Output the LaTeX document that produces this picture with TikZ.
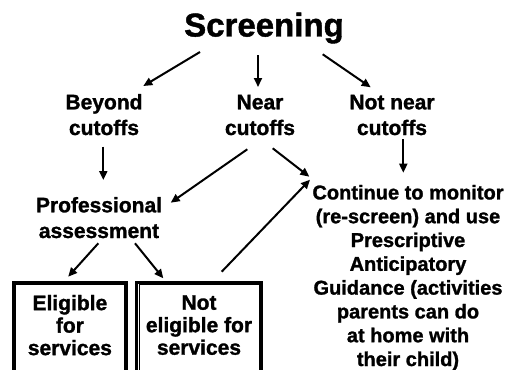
\documentclass[tikz,border=0pt]{standalone}
\usepackage{fontspec}
\setmainfont{Liberation Sans}[BoldFeatures={FakeBold=1.3}]
\usetikzlibrary{arrows.meta}

\tikzset{
  lbl/.style={font=\fontsize{21}{25.7}\selectfont\bfseries,align=center,anchor=base,inner sep=0pt},
  note/.style={font=\fontsize{20}{23.8}\selectfont\bfseries,align=center,anchor=base,inner sep=0pt},
  outcome/.style={draw,line width=3pt,minimum height=100pt,inner sep=0pt,text depth=14pt,align=center,
    font=\fontsize{21}{22.5}\selectfont\bfseries},
}

\begin{document}
\begin{tikzpicture}[x=1pt,y=1pt,>={Triangle[length=9pt,width=8pt]},line width=2pt]
  \clip (0,-369) rectangle (510,0);
  % labels (base = last line)
  \node[lbl,font=\fontsize{33}{36}\selectfont\bfseries] (screen) at (264,-36.5) {Screening};
  \node[lbl] (beyond) at (104,-135) {Beyond\\cutoffs};
  \node[lbl] (near) at (260,-135) {Near\\cutoffs};
  \node[lbl] (notnear) at (392,-135) {Not near\\cutoffs};
  \node[lbl] (prof) at (99,-238) {Professional\\assessment};
  \node[note] (cont) at (408,-366) {Continue to monitor\\(re-screen) and use\\Prescriptive\\Anticipatory\\Guidance (activities\\parents can do\\at home with\\their child)};
  % outcome boxes
  \node[outcome,minimum width=113.3pt] (elig) at (69.9,-332) {Eligible\\for\\services};
  \node[outcome,minimum width=125pt] (notelig) at (199,-332) {Not\\eligible for\\services};
  \foreach \b in {elig,notelig}
    \draw[line width=1pt] ([shift={(4,-4)}]\b.north west) rectangle ([shift={(-4,4)}]\b.south east);
  % arrows
  \draw[->] ([shift={(-64,-15.5)}]screen.base) -- ([shift={(39.3,49)}]beyond.base);
  \draw[->] ([shift={(-6,-18.5)}]screen.base) -- ([shift={(-2,48)}]near.base);
  \draw[->] ([shift={(58.7,-17.8)}]screen.base) -- ([shift={(-21.3,47.7)}]notnear.base);
  \draw[->] ([shift={(-0.7,-11.7)}]beyond.base) -- ([shift={(4.3,58)}]prof.base);
  \draw[->] ([shift={(-12.7,-14.3)}]near.base) -- ([shift={(71.7,35.3)}]prof.base);
  \draw[->] ([shift={(12.7,-13.3)}]near.base) -- ([shift={(-98.7,189.3)}]cont.base);
  \draw[->] ([shift={(11.3,-4.3)}]notnear.base) -- ([shift={(-4.7,193.3)}]cont.base);
  \draw[->] ([shift={(-0.7,-5.3)}]prof.base) -- ([shift={(-1.7,55.3)}]elig.center);
  \draw[->] ([shift={(36,-5.3)}]prof.base) -- ([shift={(-35.7,53.7)}]notelig.center);
  \draw[->] ([shift={(22.7,60.3)}]notelig.center) -- ([shift={(-98,186.3)}]cont.base);
\end{tikzpicture}
\end{document}
